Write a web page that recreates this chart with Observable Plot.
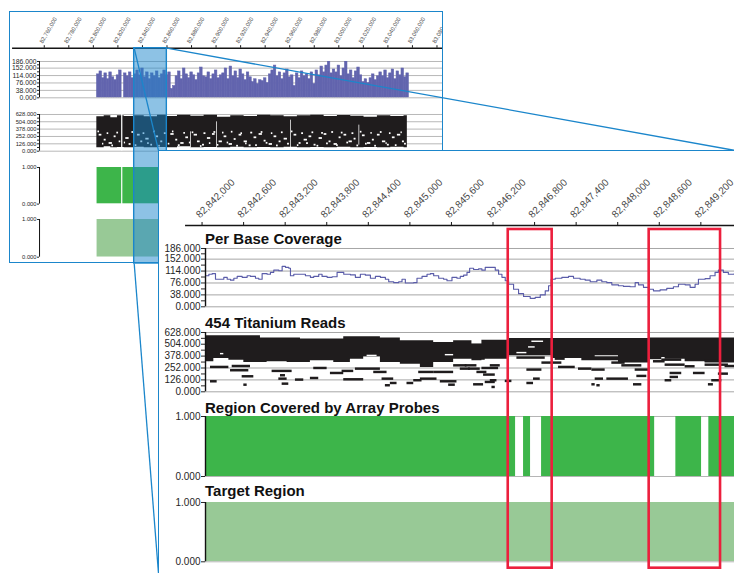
<!DOCTYPE html>
<html>
<head>
<meta charset="utf-8">
<script src="https://cdn.jsdelivr.net/npm/d3@7"></script>
<script src="https://cdn.jsdelivr.net/npm/@observablehq/plot@0.6"></script>
<style>
html,body{margin:0;padding:0;background:#fff;}
#root{position:relative;width:734px;height:573px;overflow:hidden;background:#fff;font-family:"Liberation Sans",Arial,Helvetica,sans-serif;}
.clip{position:absolute;overflow:hidden;background:#fff;}
.inner{position:absolute;width:734px;height:573px;}
.border{position:absolute;box-sizing:border-box;pointer-events:none;}
.ttl{position:absolute;font-weight:bold;font-size:15px;line-height:15px;color:#111;white-space:nowrap;}
</style>
</head>
<body>
<div id="root"></div>
<script>
// ================= DATA =================
// ---- overview (whole region) ----
const ovTicks = [82760000, 82780000, 82800000, 82820000, 82840000, 82860000, 82880000, 82900000, 82920000,
  82940000, 82960000, 82980000, 83000000, 83020000, 83040000, 83060000, 83080000];
const ovCovStart = 82802800;
const ovCovBin = 2000;
const ovCovValues = [
  120, 135, 100, 125, 95, 130, 105, 90, 115, 140,
  0,
  125, 110, 130, 100, 120,
  140, 115, 150, 105, 130, 95, 125, 110, 135, 100, 120, 140, 115, 130,
  45, 60,
  110, 135, 95, 150, 120, 100, 130, 115, 90, 125, 155, 110,
  105, 130, 95, 120, 140, 100, 115,
  125, 150, 95, 160, 110, 135, 100, 145, 120, 90, 130, 105,
  80, 95, 70, 90, 85, 100, 75,
  120, 140, 165, 110, 130, 95, 125, 145, 105, 115, 60,
  125, 100, 135, 110, 120, 95, 130, 70,
  140, 115, 160, 130, 165, 186, 125, 145,
  130, 165, 110, 150, 186, 120, 140, 100, 135, 155, 115,
  80, 95, 75, 100, 120, 90, 110,
  130, 110, 140, 100, 125, 145, 95, 135, 115, 150, 105, 125];
const ovReadPos = [82802600, 82808600, 82814000, 82819400, 82824900, 82833000, 82841200, 82852000, 82860200, 82868300,
  82879200, 82890000, 82900900, 82911700, 82922600, 82933500, 82944300, 82955200, 82966000, 82976900,
  82987800, 82998600, 83009500, 83020300, 83031200, 83042100, 83052900, 83055600];
const ovReadTop = [588, 605, 571, 605, 594, 605, 588, 617, 594, 617, 600, 617, 582, 605, 594, 617, 605, 588, 605, 617,
  594, 611, 600, 582, 605, 594, 605, 605];
const ovReadBottom = [58, 75, 58, 63, 58, 69, 58, 63, 58, 75, 58, 63, 58, 69, 58, 63, 58, 69, 58, 63,
  58, 69, 58, 63, 58, 69, 58, 58];
const ovGapStart = [82822800, 82879100, 82900300, 82960400, 83016200];
const ovGapEnd = [82823800, 82879700, 82900900, 82961000, 83016800];
const ovGapLo = [0, 58, 58, 58, 103];
const ovGapHi = [628, 331, 502, 531, 446];
const ovSpeckStart = [82804500, 82808600, 82812600, 82816700, 82820800, 82826200, 82828900, 82835700, 82838400, 82842500,
  82846600, 82850700, 82854700, 82862900, 82866900, 82871000, 82875100, 82881900, 82884600, 82888700,
  82892700, 82896800, 82902200, 82906300, 82910400, 82914500, 82918500, 82922600, 82926700, 82930700,
  82934800, 82938900, 82943000, 82947000, 82951100, 82955200, 82963300, 82967400, 82971500, 82975500,
  82979600, 82983700, 82987800, 82991800, 82995900, 83000000, 83004000, 83008100, 83012200, 83019000,
  83023100, 83027100, 83031200, 83035300, 83039300, 83043400, 83047500, 83051600,
  82803500, 82807200, 82811000, 82814800, 82818900, 82825000, 82831200, 82833800, 82840300, 82844000,
  82848800, 82853100, 82857600, 82860800, 82864200, 82869000, 82873500, 82878000, 82880300, 82887000,
  82889900, 82894300, 82898000, 82900900, 82905000, 82908800, 82912200, 82916500, 82920000, 82923800,
  82928000, 82932000, 82936500, 82940600, 82944800, 82949000, 82953000, 82958000, 82961200, 82966000,
  82969500, 82973500, 82977900, 82982000, 82985800, 82989800, 82994000, 82998000, 83001800, 83006300,
  83010500, 83014500, 83017300, 83021500, 83025900, 83029000, 83033600, 83038200, 83041000, 83045800,
  83050400, 83053300];
const ovSpeckEnd = [82806700, 82810200, 82815300, 82818300, 82822100, 82828900, 82830500, 82837900, 82840000, 82845200,
  82848000, 82852900, 82856300, 82865600, 82868500, 82873700, 82877300, 82884600, 82886800, 82890300,
  82895400, 82899000, 82904900, 82908500, 82913100, 82916100, 82920700, 82925300, 82928300, 82932900,
  82937500, 82940500, 82945700, 82949200, 82952700, 82957900, 82965500, 82969000, 82974200, 82977700,
  82981200, 82986400, 82990000, 82993400, 82998600, 83001600, 83006200, 83010800, 83013800, 83021200,
  83025800, 83028700, 83033400, 83038000, 83040900, 83045600, 83050200, 83053200,
  82804800, 82808300, 82812300, 82816200, 82820300, 82826000, 82832800, 82835200, 82841700, 82845300,
  82850300, 82854300, 82859200, 82862100, 82865400, 82870500, 82874800, 82879000, 82881600, 82888300,
  82891500, 82895500, 82899500, 82902000, 82906200, 82910000, 82913500, 82918000, 82921300, 82925000,
  82929600, 82933400, 82937900, 82942000, 82946000, 82950400, 82954400, 82959500, 82962400, 82967200,
  82971000, 82975000, 82979300, 82983400, 82987200, 82991200, 82995500, 82999300, 83003200, 83007700,
  83012000, 83015900, 83018600, 83022900, 83027000, 83030400, 83035000, 83039200, 83042300, 83047200,
  83051500, 83054800];
const ovSpeckLevel = [274, 189, 132, 246, 160, 217, 115, 274, 160, 206,
  103, 246, 160, 286, 189, 132, 229, 274, 160, 103,
  217, 286, 160, 246, 115, 200, 274, 160, 92, 229,
  286, 172, 115, 246, 160, 206, 274, 132, 189, 246,
  103, 217, 286, 160, 115, 229, 274, 160, 206, 263,
  132, 189, 274, 160, 103, 229, 274, 160,
  330, 120, 300, 90, 310, 140, 320, 95, 300, 130,
  330, 85, 300, 120, 330, 95, 305, 140, 315, 80,
  300, 130, 320, 100, 310, 140, 325, 85, 300, 125,
  310, 95, 320, 135, 300, 90, 315, 120, 330, 95,
  300, 130, 315, 85, 305, 125, 320, 95, 310, 140,
  300, 90, 325, 120, 305, 85, 320, 130, 300, 95,
  315, 120];
const ovProbeStart = [82802800, 82823800];
const ovProbeEnd = [82822800, 83055600];
const ovTargetStart = [82802800];
const ovTargetEnd = [83055600];
const highlightRange = [82833300, 82859900];

// ---- zoomed view ----
const zmTicks = [82842000, 82842600, 82843200, 82843800, 82844400, 82845000, 82845600, 82846200, 82846800,
  82847400, 82848000, 82848600, 82849200];
const covTicks = [0, 38, 76, 114, 152, 186];
const readTicks = [0, 126, 252, 378, 504, 628];
const binTicks = [0, 1];
const trackTitles = ["Per Base Coverage", "454 Titanium Reads", "Region Covered by Array Probes", "Target Region"];

const covPos = [82842052, 82842100, 82842148, 82842196, 82842268, 82842316, 82842365, 82842413, 82842461, 82842509,
  82842581, 82842653, 82842701, 82842773, 82842821, 82842869, 82842941, 82842989, 82843037, 82843110,
  82843158, 82843206, 82843254, 82843278, 82843326, 82843422, 82843494, 82843566, 82843614, 82843686,
  82843734, 82843807, 82843879, 82843951, 82844047, 82844143, 82844215, 82844287, 82844359, 82844432,
  82844504, 82844576, 82844648, 82844696, 82844768, 82844840, 82844888, 82844936, 82845008, 82845056,
  82845104, 82845177, 82845249, 82845297, 82845345, 82845417, 82845489, 82845537, 82845609, 82845681,
  82845729, 82845777, 82845826, 82845864, 82845921, 82845993, 82846041, 82846089, 82846162, 82846234,
  82846282, 82846330, 82846378, 82846426, 82846498, 82846570, 82846642, 82846738, 82846810, 82846883,
  82846955, 82847003, 82847041, 82847099, 82847195, 82847291, 82847363, 82847459, 82847532, 82847604,
  82847700, 82847772, 82847844, 82847916, 82848012, 82848084, 82848180, 82848253, 82848301, 82848373,
  82848445, 82848517, 82848613, 82848709, 82848805, 82848878, 82848974, 82849046, 82849118, 82849166,
  82849262, 82849334, 82849406, 82849454, 82849526, 82849598, 82849685];
const covVal = [99, 104, 106, 88, 88, 94, 88, 85, 91, 97,
  94, 99, 97, 91, 88, 106, 104, 110, 117, 115,
  129, 126, 123, 99, 104, 104, 99, 94, 97, 104,
  97, 94, 96, 110, 104, 102, 94, 104, 101, 91,
  97, 94, 88, 80, 77, 80, 88, 76, 76, 77,
  91, 97, 104, 106, 99, 91, 88, 83, 94, 91,
  97, 101, 110, 123, 119, 121, 117, 126, 126, 117,
  104, 94, 83, 72, 56, 42, 33, 27, 30, 38,
  51, 67, 88, 91, 94, 97, 91, 88, 85, 80,
  85, 80, 77, 70, 67, 65, 64, 77, 70, 62,
  56, 51, 54, 59, 64, 72, 70, 62, 72, 88,
  90, 99, 110, 117, 110, 104, 107];

const blockPos = [82842052, 82842172, 82842389, 82842605, 82842845, 82842941, 82843230, 82843422, 82843566, 82843903,
  82844047, 82844143, 82844335, 82844576, 82844864, 82845153, 82845345, 82845633, 82845897, 82846041,
  82846089, 82846426, 82847051, 82847483, 82848012, 82848445, 82848685, 82848974, 82849262, 82849695];
const blockTop = [593, 593, 593, 593, 569, 569, 569, 558, 558, 558, 583, 583, 583, 569, 540, 540, 523, 540, 505, 547,
  547, 565, 565, 565, 565, 569, 569, 569, 569, 569];
const blockBottom = [318, 353, 335, 311, 311, 318, 311, 311, 328, 311, 311, 346, 371, 311, 293, 258, 311, 346, 328, 335,
  346, 381, 353, 328, 304, 364, 346, 318, 304, 304];
const slitStart = [82842268, 82844384, 82845513, 82846546, 82846714, 82846762, 82847676];
const slitEnd = [82842316, 82844528, 82845633, 82846690, 82846810, 82846931, 82848012];
const slitLevel = [399, 380, 388, 410, 470, 530, 374];

const readStart = [
  82842124, 82842437, 82842413, 82842581, 82842124, 82842605, 82843013, 82843134, 82843110, 82843158,
  82843350, 82843566, 82843614, 82843855, 82844023, 82844047, 82844215, 82844480, 82844600, 82844648,
  82844720, 82844960, 82845057, 82845153, 82845129, 82845345, 82845441, 82845561, 82845633, 82845729,
  82845801, 82845849, 82846041, 82846162, 82845969, 82846065, 82845921, 82846089, 82846162, 82846186,
  82846378, 82846546, 82846690, 82846786, 82846690, 82846907, 82847099, 82847147, 82847435, 82847628,
  82847580, 82847676, 82847628, 82847700, 82847844, 82847916, 82848060, 82848229, 82848253, 82848277,
  82848469, 82848517, 82848637, 82848685, 82848757, 82848757, 82848685, 82848974, 82849094, 82849262,
  82849262, 82849358, 82849310, 82849454, 82849550];
const readEnd = [
  82842389, 82842701, 82842677, 82842749, 82842220, 82842653, 82843302, 82843206, 82843230, 82843254,
  82843470, 82843686, 82843807, 82844047, 82844191, 82844335, 82844576, 82844672, 82844768, 82844720,
  82844816, 82845057, 82845177, 82845393, 82845345, 82845633, 82845681, 82845657, 82845826, 82845874,
  82845969, 82846017, 82846282, 82846306, 82846113, 82846234, 82846065, 82846234, 82846258, 82846234,
  82846474, 82846955, 82846907, 82846883, 82846786, 82847195, 82847243, 82847388, 82847628, 82847820,
  82848012, 82847796, 82847676, 82847748, 82848156, 82848108, 82848349, 82848349, 82848445, 82848421,
  82848637, 82848685, 82848925, 82848974, 82848925, 82848878, 82848781, 82849118, 82849262, 82849454,
  82849599, 82849503, 82849382, 82849599, 82849695];
const readLevel = [
  258, 268, 223, 159, 106, 70, 216, 170, 134, 81,
  124, 141, 247, 194, 216, 127, 240, 205, 134, 64,
  88, 88, 117, 134, 205, 205, 106, 70, 275, 240,
  275, 240, 247, 275, 205, 177, 74, 99, 117, 46,
  110, 357, 230, 134, 88, 304, 346, 258, 240, 230,
  357, 134, 74, 64, 134, 304, 275, 74, 230, 163,
  353, 318, 335, 282, 194, 152, 117, 265, 194, 328,
  282, 117, 74, 187, 268];
const probeStart = [82842000, 82846642, 82846902, 82848840, 82849316];
const probeEnd = [82846527, 82846743, 82848534, 82849211, 82850000];
const targetStart = [82842000];
const targetEnd = [82850000];
const boxStart = [82846421, 82848455];
const boxEnd = [82847055, 82849485];

// ================= STYLE / LAYOUT =================
const FONT = '"Liberation Sans", Arial, Helvetica, sans-serif';
const BLUE = "#1b86cb", RED = "#ec1f3d", BAR = "#6264ae", LINE = "#5a5ca9", INK = "#1f1c1d",
      GREEN = "#3db54a", LIGHTGREEN = "#98c996", GRID = "#a6a6a6";
const OV = {left: 9, top: 11, right: 443, bottom: 263};
const ZM = {left: 158, top: 150, right: 735, bottom: 573};
// page-pixel calibration of the two genomic axes
const ovPx = d3.scaleLinear().domain([82760000, 83060000]).range([43.7, 412]);
const zmPx = d3.scaleLinear().domain([82842000, 82849200]).range([201.4, 700.3]);

const root = document.getElementById("root");
function panel(b) {
  const clip = document.createElement("div");
  clip.className = "clip";
  Object.assign(clip.style, {left: b.left + "px", top: b.top + "px", width: (b.right - b.left) + "px", height: (b.bottom - b.top) + "px"});
  const inner = document.createElement("div");
  inner.className = "inner";
  inner.style.left = -b.left + "px"; inner.style.top = -b.top + "px";
  clip.appendChild(inner); root.appendChild(clip);
  return inner;
}
function border(b, sides, extra) {
  const d = document.createElement("div");
  d.className = "border";
  Object.assign(d.style, {left: b.left + "px", top: b.top + "px", width: (b.right - b.left + (extra || 0)) + "px", height: (b.bottom - b.top + (extra || 0)) + "px"});
  for (const s of sides) d.style["border" + s] = "1.5px solid " + BLUE;
  root.appendChild(d);
}
function put(parent, svg, left, top) {
  svg.style.position = "absolute";
  svg.style.left = left + "px";
  svg.style.top = top + "px";
  parent.appendChild(svg);
}
const STYLE = {background: "transparent", overflow: "visible", maxWidth: "none", fontFamily: FONT};

function track(parent, px, f) {
  const ml = f.ml, mt = 6, mb = 6, mr = 0;
  const xd = [px.invert(f.x0), px.invert(f.x1)];
  const svg = Plot.plot({
    width: f.x1 - f.x0 + ml + mr, height: f.yZero - f.yTop + mt + mb,
    marginLeft: ml, marginRight: mr, marginTop: mt, marginBottom: mb,
    x: {domain: xd, axis: null},
    y: {domain: [0, f.max], axis: null, label: null},
    style: STYLE,
    marks: f.marks(xd)
  });
  put(parent, svg, f.x0 - ml, f.yTop - mt);
}
function yAxis(ticks, xd, o) {
  const mids = o.minor ? d3.pairs(ticks).map(([a, b]) => (a + b) / 2) : [];
  const m = [
    Plot.axisY({ticks, tickFormat: d => d.toFixed(3), tickSize: o.ts, tickPadding: o.tp, fontSize: o.fs, color: "#262626", label: null}),
    Plot.ruleX([xd[0]], {stroke: "#111", strokeWidth: o.lw})
  ];
  if (mids.length) m.push(Plot.ruleY(mids, {x1: xd[0], x2: xd[0], insetLeft: -o.ts, stroke: "#262626"}));
  return m;
}
function xAxis(parent, px, a) {
  const mt = a.yLine - a.ts - a.top;
  const svg = Plot.plot({
    width: a.x1 - a.x0, height: mt + a.ts, marginLeft: 0, marginRight: 0, marginTop: mt, marginBottom: 0,
    x: {domain: [px.invert(a.x0), px.invert(a.x1)], axis: null},
    y: {domain: [0, 1], axis: null},
    style: STYLE,
    marks: [
      Plot.ruleX(a.ticks, {x: d => d, stroke: "#151515", strokeWidth: 1}),
      Plot.ruleY([0], {stroke: "#151515", strokeWidth: a.lw}),
      Plot.text(a.ticks, {x: d => d, frameAnchor: "bottom", text: d3.format(","), rotate: a.rot, textAnchor: "start",
        lineAnchor: "bottom", dx: a.dx, dy: a.dy, fontSize: a.fs, fill: "#4a4a4a"})
    ]
  });
  put(parent, svg, a.x0, a.top);
}

// ================= OVERVIEW PANEL =================
const ovInner = panel(OV);
const ovCov = ovCovValues.map((v, i) => ({x1: ovCovStart + i * ovCovBin, x2: ovCovStart + (i + 1) * ovCovBin, v}));
const ovBlock = ovReadPos.map((x, i) => ({x, top: ovReadTop[i], bottom: ovReadBottom[i]}));
const ovGaps = ovGapStart.map((s, i) => ({s, e: ovGapEnd[i], lo: ovGapLo[i], hi: ovGapHi[i]}));
const ovSpecks = ovSpeckStart.map((s, i) => ({s, e: ovSpeckEnd[i], lv: ovSpeckLevel[i]}));
const ovProbes = ovProbeStart.map((s, i) => ({s, e: ovProbeEnd[i]}));
const ovTarget = ovTargetStart.map((s, i) => ({s, e: ovTargetEnd[i]}));
const OV_AXIS_Y = 47.7;

xAxis(ovInner, ovPx, {x0: 12, x1: OV.right, yLine: OV_AXIS_Y, top: OV.top, ticks: ovTicks, ts: 2.5, lw: 1.4,
  rot: -60, dx: -1.5, dy: -4.5, fs: 5.8});

track(ovInner, ovPx, {x0: 38.7, x1: OV.right, yTop: 61, yZero: 97.3, max: 186, ml: 32, marks: xd => [
  Plot.gridY(covTicks, {stroke: GRID, strokeOpacity: 1, strokeWidth: 0.8}),
  Plot.rectY(ovCov, {x1: "x1", x2: "x2", y: "v", fill: BAR, stroke: BAR, strokeWidth: 0.6, inset: 0, clip: true}),
  ...yAxis(covTicks, xd, {ts: 2, tp: 1, fs: 6.8, lw: 1, minor: true})
]});
const OV_SPECK = 30;
track(ovInner, ovPx, {x0: 38.7, x1: OV.right, yTop: 114, yZero: 150.7, max: 628, ml: 32, marks: xd => [
  Plot.gridY(readTicks, {stroke: GRID, strokeOpacity: 1, strokeWidth: 0.8}),
  Plot.areaY(ovBlock, {x: "x", y1: "bottom", y2: "top", curve: "step-after", fill: INK, clip: true}),
  Plot.rect(ovSpecks, {x1: "s", x2: "e", y1: d => d.lv - OV_SPECK / 2, y2: d => d.lv + OV_SPECK / 2, fill: "#fff", inset: 0, clip: true}),
  Plot.rect(ovGaps, {x1: "s", x2: "e", y1: "lo", y2: "hi", fill: "#fff", inset: 0, clip: true}),
  ...yAxis(readTicks, xd, {ts: 2, tp: 1, fs: 5.8, lw: 1, minor: true})
]});
track(ovInner, ovPx, {x0: 38.7, x1: OV.right, yTop: 166.7, yZero: 203.3, max: 1, ml: 32, marks: xd => [
  Plot.rect(ovProbes, {x1: "s", x2: "e", y1: 0, y2: 1, fill: GREEN, inset: 0, clip: true}),
  ...yAxis(binTicks, xd, {ts: 2, tp: 1, fs: 5.8, lw: 1})
]});
track(ovInner, ovPx, {x0: 38.7, x1: OV.right, yTop: 219, yZero: 256.7, max: 1, ml: 32, marks: xd => [
  Plot.rect(ovTarget, {x1: "s", x2: "e", y1: 0, y2: 1, fill: LIGHTGREEN, inset: 0, clip: true}),
  ...yAxis(binTicks, xd, {ts: 2, tp: 1, fs: 5.8, lw: 1})
]});
border(OV, ["Top", "Right", "Bottom", "Left"]);

// ================= HIGHLIGHT + CONNECTORS =================
const hl = {x1: ovPx(highlightRange[0]), x2: ovPx(highlightRange[1]), y1: OV_AXIS_Y, y2: OV.bottom};
const links = [
  {x1: hl.x1, y1: hl.y1, x2: ZM.left, y2: ZM.top},
  {x1: hl.x2, y1: hl.y1, x2: ZM.right, y2: ZM.top},
  {x1: hl.x1, y1: hl.y2, x2: ZM.left, y2: ZM.bottom},
  {x1: hl.x2, y1: hl.y2, x2: ZM.right, y2: ZM.bottom}
];
const overlay = Plot.plot({
  width: 734, height: 573, margin: 0,
  x: {type: "identity"}, y: {type: "identity"},
  style: STYLE,
  marks: [
    Plot.rect([hl], {x1: "x1", x2: "x2", y1: "y1", y2: "y2", fill: BLUE, fillOpacity: 0.5, stroke: BLUE, strokeWidth: 1.4}),
    Plot.link(links, {x1: "x1", y1: "y1", x2: "x2", y2: "y2", stroke: BLUE, strokeWidth: 1.3})
  ]
});
put(root, overlay, 0, 0);

// ================= ZOOM PANEL =================
const zmInner = panel(ZM);
const cov = covPos.map((x, i) => ({x, v: covVal[i]}));
const block = blockPos.map((x, i) => ({x, top: blockTop[i], bottom: blockBottom[i]}));
const slits = slitStart.map((s, i) => ({s, e: slitEnd[i], lv: slitLevel[i]}));
const reads = readStart.map((s, i) => ({s, e: readEnd[i], lv: readLevel[i]}));
const probes = probeStart.map((s, i) => ({s, e: probeEnd[i]}));
const target = targetStart.map((s, i) => ({s, e: targetEnd[i]}));
const boxes = boxStart.map((s, i) => ({s, e: boxEnd[i]}));
const RH = 26, SLIT = 15;
const ZX0 = 205, ZX1 = ZM.right;

xAxis(zmInner, zmPx, {x0: 184.9, x1: ZM.right, yLine: 225, top: ZM.top, ticks: zmTicks, ts: 3, lw: 1.6,
  rot: -45, dx: -2, dy: -7, fs: 10});

const titleTops = [233.3, 316.7, 401.7, 485];
trackTitles.forEach((t, i) => {
  const d = document.createElement("div");
  d.className = "ttl"; d.textContent = t;
  d.style.left = ZX0 + "px"; d.style.top = (titleTops[i] - 2) + "px";
  zmInner.appendChild(d);
});

track(zmInner, zmPx, {x0: ZX0, x1: ZX1, yTop: 247.7, yZero: 306, max: 186, ml: 50, marks: xd => [
  Plot.gridY(covTicks, {stroke: GRID, strokeOpacity: 1, strokeWidth: 1}),
  Plot.line(cov, {x: "x", y: "v", curve: "step-after", stroke: LINE, strokeWidth: 1.15, clip: true}),
  ...yAxis(covTicks, xd, {ts: 4, tp: 1, fs: 10, lw: 1.4, minor: true})
]});
track(zmInner, zmPx, {x0: ZX0, x1: ZX1, yTop: 331.7, yZero: 391, max: 628, ml: 50, marks: xd => [
  Plot.gridY(readTicks, {stroke: GRID, strokeOpacity: 1, strokeWidth: 1}),
  Plot.areaY(block, {x: "x", y1: "bottom", y2: "top", curve: "step-after", fill: INK, clip: true}),
  Plot.rect(slits, {x1: "s", x2: "e", y1: d => d.lv - SLIT / 2, y2: d => d.lv + SLIT / 2, fill: "#fff", inset: 0, clip: true}),
  Plot.rect(reads, {x1: "s", x2: "e", y1: d => d.lv - RH / 2, y2: d => d.lv + RH / 2, fill: INK, inset: 0, clip: true}),
  ...yAxis(readTicks, xd, {ts: 4, tp: 1, fs: 10, lw: 1.4, minor: true})
]});
track(zmInner, zmPx, {x0: ZX0, x1: ZX1, yTop: 416, yZero: 476, max: 1, ml: 50, marks: xd => [
  Plot.gridY(binTicks, {stroke: "#b5b5b5", strokeOpacity: 1, strokeWidth: 1}),
  Plot.rect(probes, {x1: "s", x2: "e", y1: 0, y2: 1, fill: GREEN, inset: 0, clip: true}),
  ...yAxis(binTicks, xd, {ts: 4, tp: 1, fs: 10, lw: 1.4})
]});
track(zmInner, zmPx, {x0: ZX0, x1: ZX1, yTop: 501.7, yZero: 561, max: 1, ml: 50, marks: xd => [
  Plot.gridY([0], {stroke: "#b5b5b5", strokeOpacity: 1, strokeWidth: 1}),
  Plot.rect(target, {x1: "s", x2: "e", y1: 0, y2: 1, fill: LIGHTGREEN, inset: 0, clip: true}),
  ...yAxis(binTicks, xd, {ts: 4, tp: 1, fs: 10, lw: 1.4})
]});
track(zmInner, zmPx, {x0: ZX0, x1: ZX1, yTop: 229, yZero: 567.7, max: 1, ml: 0, marks: xd => [
  Plot.rect(boxes, {x1: "s", x2: "e", y1: 0, y2: 1, fill: "none", stroke: RED, strokeWidth: 2.6})
]});
border(ZM, ["Top", "Left"], 40);
</script>
</body>
</html>
